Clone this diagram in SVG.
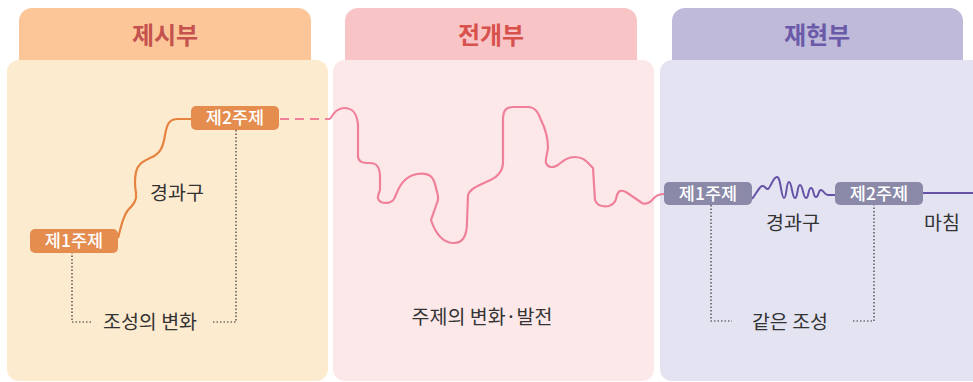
<svg xmlns="http://www.w3.org/2000/svg" width="973" height="382" viewBox="0 0 973 382">
<style>
.hd{font-family:"Noto Sans CJK KR","Noto Sans",sans-serif;font-size:24px;font-weight:bold;text-anchor:middle}
.nt{font-family:"Noto Sans CJK KR","Noto Sans",sans-serif;font-size:17.5px;font-weight:500;fill:#fff;text-anchor:middle}
.lb{font-family:"Noto Sans CJK KR","Noto Sans",sans-serif;font-size:19.5px;fill:#333;text-anchor:middle}
.dot{fill:none;stroke:#333;stroke-width:1.2;stroke-dasharray:1.5 2}
</style>
<rect width="973" height="382" fill="#fff"/>
<g id="panel-exposition">
<rect x="19" y="8" width="292" height="70" rx="13" fill="#fcc698"/>
<rect x="7" y="60" width="321" height="321" rx="12" fill="#fdebd0"/>
<text class="hd" x="165" y="44" fill="#c4524f">제시부</text>
</g>
<g id="panel-development">
<rect x="345" y="8" width="292" height="70" rx="13" fill="#f8c4c6"/>
<rect x="333" y="60" width="321" height="321" rx="12" fill="#fde8e9"/>
<text class="hd" x="491" y="44" fill="#d9514c">전개부</text>
</g>
<g id="panel-recap">
<rect x="672" y="8" width="291" height="70" rx="13" fill="#bfb9da"/>
<rect x="660" y="60" width="330" height="321" rx="12" fill="#e4e3f2"/>
<text class="hd" x="817" y="44" fill="#6b5aa8">재현부</text>
</g>
<g id="connectors">
<path d="M118,238 C121,228 122,218 128,210 C134,204 137,200 136,193 C135,187 134,182 136,172 C138,164 142,162 150,158 C160,154 163,148 165,135 C167,124 169,119 178,119 L192,119" fill="none" stroke="#e5833f" stroke-width="2.2"/>
<path d="M280,119 L330,119" fill="none" stroke="#f0809a" stroke-width="2.2" stroke-dasharray="9 6"/>
<path d="M330,119 C334,112 338,108 344,108 C352,108 357,112 358,125 L358,157 C359,162 362,163 370,163 C377,163 380,167 380,177 L380,190 C378,196 376,199 381,202 C386,204 393,203 395,197 C399,187 403,177 417,174 C431,172 434,178 436,188 C437,194 440,197 437,203 L431,220 C436,235 443,243 454,243 C463,243 467,236 467,222 L468,195 C470,189 476,187 486,182 C497,178 503,172 503,162 L503,120 C503,110 506,107 514,107 L528,107 C535,107 538,112 541,120 C546,130 548,138 548,148 C547,155 545,160 546,163 C548,168 553,168 558,165 C564,160 568,157 575,157 C584,157 587,162 593,168 L595,200 C597,206 602,207 609,206 C615,204 616,200 617,195 C619,190 621,190 626,192 L642,203 C648,206 652,200 654,198 C657,195 660,194 664,194" fill="none" stroke="#f0809a" stroke-width="2.2"/>
<path d="M752,199 C756,194 759,187 762,186 C765,185 766,190 768,189 C771,187 773,177 777,177 C781,177 781,198 784,198 C787,198 786,182 789,182 C792,182 792,198 795,198 C798,198 797,185 800,185 C803,185 803,198 806,198 C809,198 808,188 811,188 C814,188 813,197 816,197 C819,197 818,190 821,190 C824,190 824,195 828,195 L836,195" fill="none" stroke="#6552a6" stroke-width="2"/>
<path d="M923,193 L973,193" fill="none" stroke="#6552a6" stroke-width="2.2"/>
<path class="dot" d="M72,252 L72,322 L93,322"/>
<path class="dot" d="M213,322 L236,322 L236,130"/>
<path class="dot" d="M711,205 L711,321 L732,321"/>
<path class="dot" d="M853,321 L874,321 L874,205"/>
</g>
<g id="node-t1a">
<rect x="30" y="229" width="88" height="24" rx="5" fill="#e58c4f"/>
<text class="nt" x="74" y="247">제1주제</text>
</g>
<g id="node-t2a">
<rect x="191" y="106" width="88" height="24" rx="5" fill="#e58c4f"/>
<text class="nt" x="235" y="124">제2주제</text>
</g>
<g id="node-t1b">
<rect x="664" y="182" width="88" height="23" rx="5" fill="#8a89a8"/>
<text class="nt" x="708" y="200">제1주제</text>
</g>
<g id="node-t2b">
<rect x="835" y="182" width="88" height="23" rx="5" fill="#8a89a8"/>
<text class="nt" x="879" y="200">제2주제</text>
</g>
<g id="labels">
<text class="lb" x="177" y="200">경과구</text>
<text class="lb" x="150" y="329">조성의 변화</text>
<text class="lb" x="482" y="324">주제의 변화·발전</text>
<text class="lb" x="793" y="230">경과구</text>
<text class="lb" x="942" y="230">마침</text>
<text class="lb" x="790" y="329">같은 조성</text>
</g>
</svg>
